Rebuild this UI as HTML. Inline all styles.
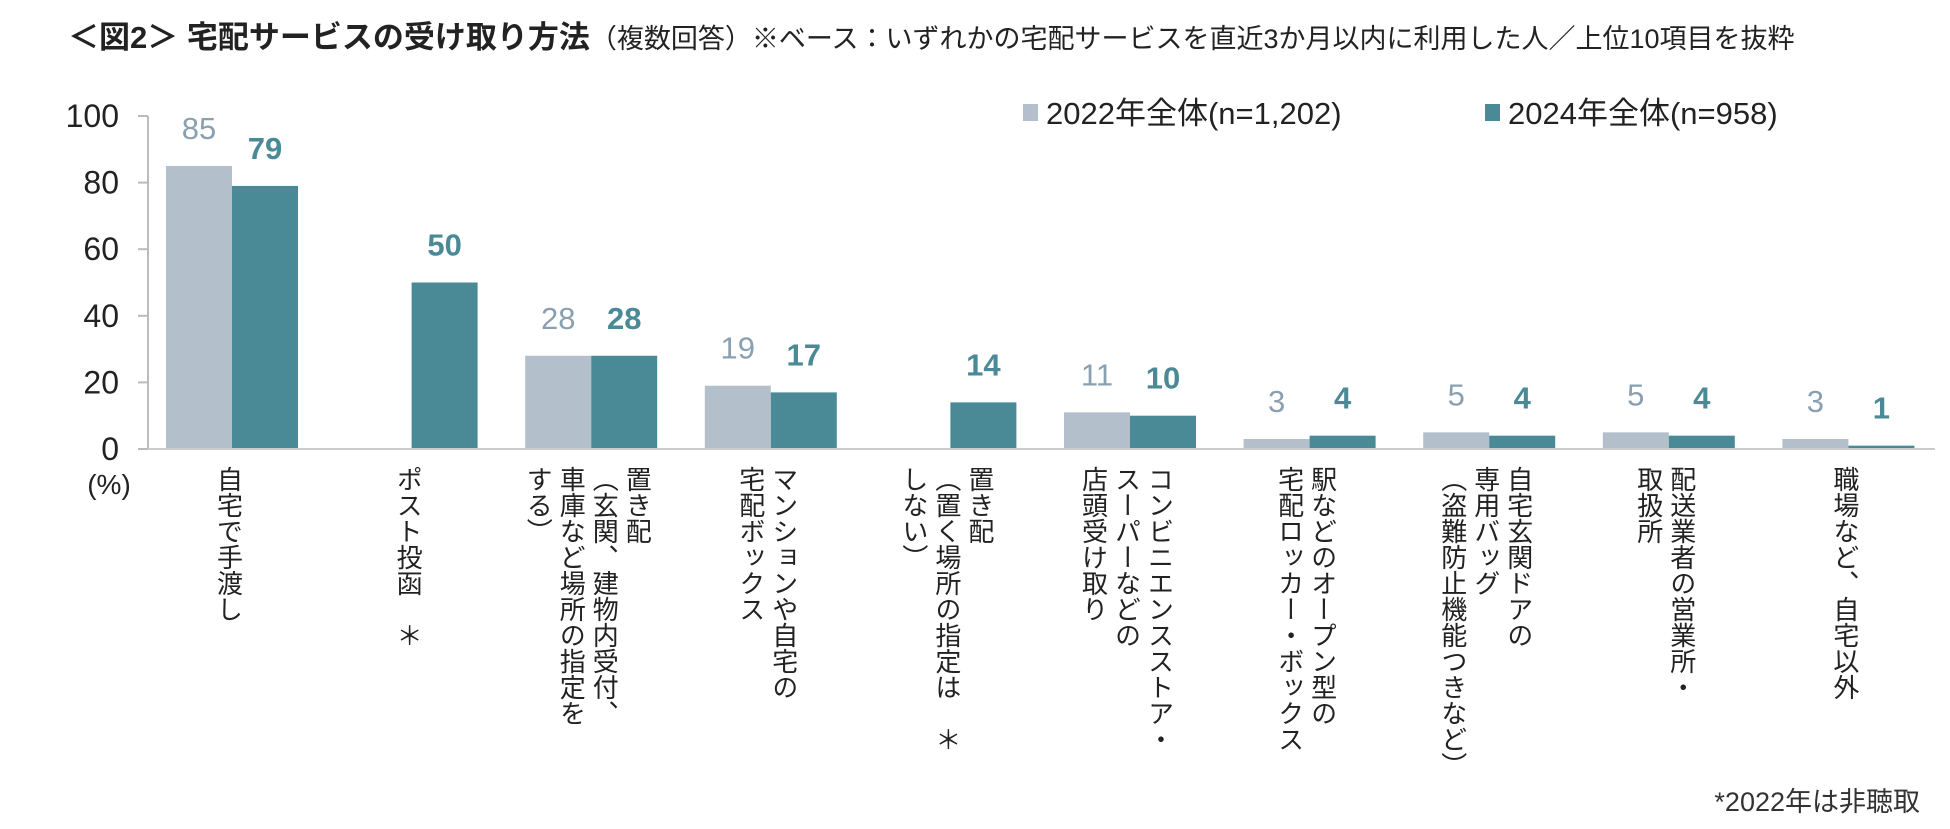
<!DOCTYPE html>
<html><head><meta charset="utf-8">
<style>
html,body{margin:0;padding:0;background:#fff;}
body{width:1950px;height:829px;overflow:hidden;position:relative;font-family:"Liberation Sans","Noto Sans CJK JP",sans-serif;color:#222;}
#title{position:absolute;left:68px;top:12px;white-space:nowrap;}
#title b{font-size:31px;}
#title span{font-size:27px;}
.cat{position:absolute;top:466px;writing-mode:vertical-rl;font-size:26px;line-height:33px;white-space:nowrap;transform:translateX(-50%);color:#222;}
#foot{position:absolute;right:30px;top:780px;font-size:27px;color:#333;}
</style></head><body>
<div id="title"><b>＜図2＞ 宅配サービスの受け取り方法</b><span>（複数回答）※ベース：いずれかの宅配サービスを直近3か月以内に利用した人／上位10項目を抜粋</span></div>
<svg id="chart" width="1950" height="829" style="position:absolute;left:0;top:0"></svg>
<div id="labels"></div>
<div id="foot">*2022年は非聴取</div>
<script>
const categories=["自宅で手渡し","ポスト投函　＊","置き配<br>（玄関、建物内受付、<br>車庫など場所の指定を<br>する）","マンションや自宅の<br>宅配ボックス","置き配<br>（置く場所の指定は　＊<br>しない）","コンビニエンスストア・<br>スーパーなどの<br>店頭受け取り","駅などのオープン型の<br>宅配ロッカー・ボックス","自宅玄関ドアの<br>専用バッグ<br>（盗難防止機能つきなど）","配送業者の営業所・<br>取扱所","職場など、自宅以外"];
const values2022=[85,null,28,19,null,11,3,5,5,3];
const values2024=[79,50,28,17,14,10,4,4,4,1];
const yTicks=[0,20,40,60,80,100];
const seriesNames=["2022年全体(n=1,202)","2024年全体(n=958)"];

const NS="http://www.w3.org/2000/svg";
const svg=document.getElementById('chart');
const y0=449,y100=116,axisX=148,plotR=1935,first=232,pitch=179.6,bw=66;
const yS=v=>y0-(y0-y100)*v/100;
const xC=i=>first+pitch*i;
function mk(tag,attrs){const e=document.createElementNS(NS,tag);for(const k in attrs)e.setAttribute(k,attrs[k]);svg.appendChild(e);return e;}
yTicks.forEach(t=>{
  const l=mk('line',{x1:axisX-10,x2:axisX,y1:yS(t),y2:yS(t),stroke:'#bbb','stroke-width':2});
  
  
  const tx=mk('text',{x:119,y:yS(t)+11,'text-anchor':'end','font-size':32,fill:'#222'});
  tx.textContent=t;
  
  
});
const ya=mk('line',{x1:axisX,x2:axisX,y1:y100,y2:y0,stroke:'#bbb','stroke-width':2});


const pc=mk('text',{x:109,y:494,'text-anchor':'middle','font-size':28,fill:'#222'});
pc.textContent='(%)';


categories.forEach((c,i)=>{
  const cx=xC(i);
  if(values2022[i]!=null){
    const r=mk('rect',{x:cx-bw,y:yS(values2022[i]),width:bw,height:y0-yS(values2022[i]),fill:'#b3bfcb'});
    
    
    const t=mk('text',{x:cx-bw/2,y:yS(values2022[i])-27,'text-anchor':'middle','font-size':31,fill:'#8a9fb0'});
    t.textContent=values2022[i];
    
    
  }
  const r2=mk('rect',{x:cx,y:yS(values2024[i]),width:bw,height:y0-yS(values2024[i]),fill:'#4a8a96'});
  
  
  const t2=mk('text',{x:cx+bw/2,y:yS(values2024[i])-27,'text-anchor':'middle','font-size':31,'font-weight':'bold',fill:'#4a8a96'});
  t2.textContent=values2024[i];
  
  
  const d=document.createElement('div');
  d.className='cat';
  d.style.left=(cx-4)+'px';
  d.innerHTML=c;
  
  
  document.getElementById('labels').appendChild(d);
});
const xa=mk('line',{x1:axisX,x2:plotR,y1:y0,y2:y0,stroke:'#ccc','stroke-width':2});


const legX=[1023,1485],legC=['#b3bfcb','#4a8a96'];
seriesNames.forEach((n,i)=>{
  const s=mk('rect',{x:legX[i],y:104,width:15,height:17,fill:legC[i]});
  
  
  const t=mk('text',{x:legX[i]+23,y:124,'font-size':31,fill:'#222'});
  t.textContent=n;
  
  
});
</script>
</body></html>
